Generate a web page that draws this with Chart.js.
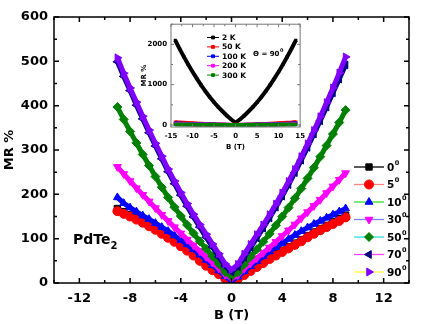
<!DOCTYPE html>
<html>
<head>
<meta charset="utf-8">
<script src="https://cdn.jsdelivr.net/npm/chart.js@4.4.0/dist/chart.umd.min.js"></script>
<style>
  body { margin: 0; background: #fff; }
  #wrap { position: relative; width: 432px; height: 324px; }
  #mainChart { position: absolute; left: 0; top: 0; }
  #insetChart { position: absolute; left: 120px; top: 16px; }
</style>
</head>
<body>
<div id="wrap">
  <canvas id="mainChart" width="432" height="324"></canvas>
  <canvas id="insetChart" width="190" height="138"></canvas>
</div>
<script>
// field B (T), main panel
const field = [-9, -8.5, -8, -7.5, -7, -6.5, -6, -5.5, -5, -4.5, -4, -3.5, -3, -2.5, -2, -1.5, -1, -0.5, 0,
  0.5, 1, 1.5, 2, 2.5, 3, 3.5, 4, 4.5, 5, 5.5, 6, 6.5, 7, 7.5, 8, 8.5, 9];

// MR % for each tilt angle
const mr0 = [168, 161, 154, 147, 140, 132, 124, 115, 106, 96, 86, 75, 64, 52, 41, 31, 21, 11, 3,
  11, 20, 30, 40, 49, 58, 66, 74, 82, 90, 98, 107, 115, 123, 130, 138, 145, 153];
const mr5 = [162, 156, 150, 143, 136, 128, 120, 111, 102, 93, 83, 73, 62, 50, 39, 29, 20, 10, 2,
  9, 18, 27, 36, 45, 54, 62, 70, 78, 86, 94, 103, 111, 119, 126, 133, 140, 148];
const mr10 = [193, 180, 170, 161, 152, 144, 135, 126, 117, 107, 97, 87, 76, 64, 52, 40, 28, 15, 5,
  14, 26, 38, 49, 60, 71, 81, 90, 99, 108, 117, 125, 133, 140, 147, 154, 161, 168];
const mr30 = [262, 246, 230, 214, 199, 184, 169, 154, 140, 126, 112, 98, 85, 72, 59, 46, 33, 19, 10,
  18, 32, 44, 56, 68, 80, 93, 106, 119, 132, 146, 160, 174, 188, 203, 218, 233, 248];
const mr50 = [397, 369, 342, 316, 290, 265, 240, 216, 193, 171, 151, 131, 112, 94, 77, 60, 43, 25, 15,
  24, 42, 59, 76, 93, 111, 130, 150, 170, 191, 213, 236, 260, 285, 310, 336, 362, 390];
const mr70 = [499, 466, 434, 401, 370, 339, 309, 280, 251, 224, 198, 173, 149, 126, 103, 81, 59, 38, 25,
  37, 58, 80, 102, 124, 147, 171, 196, 222, 249, 277, 306, 336, 366, 397, 429, 460, 492];
const mr90 = [508, 473, 440, 408, 376, 345, 315, 286, 257, 230, 204, 179, 155, 132, 110, 88, 66, 43, 30,
  42, 65, 87, 109, 131, 154, 178, 203, 229, 256, 285, 314, 344, 375, 407, 440, 474, 510];

const angles = ["0", "5", "10", "30", "50", "70", "90"];
const xTicks = [-12, -8, -4, 0, 4, 8, 12];
const yTicks = [0, 100, 200, 300, 400, 500, 600];

// inset: 90 deg, different temperatures
const insetField = [-14, -13, -12, -11, -10, -9, -8, -7, -6, -5, -4, -3, -2, -1, 0,
  1, 2, 3, 4, 5, 6, 7, 8, 9, 10, 11, 12, 13, 14];
const mr2K = [2100, 1890, 1690, 1500, 1320, 1150, 990, 835, 695, 565, 445, 335, 230, 135, 60,
  135, 230, 335, 445, 565, 695, 835, 990, 1150, 1320, 1500, 1690, 1890, 2100];
const mr50K = [70, 62, 55, 48, 42, 36, 30, 25, 20, 16, 12, 9, 6, 4, 3,
  4, 6, 9, 12, 16, 20, 25, 30, 36, 42, 48, 55, 62, 72];
const mr100K = [40, 35, 31, 27, 23, 20, 17, 14, 11, 9, 7, 5, 3, 2, 1,
  2, 3, 5, 7, 9, 11, 14, 17, 20, 23, 27, 31, 35, 40];
const mr200K = [25, 22, 19, 17, 15, 13, 11, 9, 7, 6, 4, 3, 2, 1, 1,
  1, 2, 3, 4, 6, 7, 9, 11, 13, 15, 17, 19, 22, 25];
const mr300K = [15, 13, 12, 10, 9, 8, 7, 6, 5, 4, 3, 2, 1, 1, 0,
  1, 1, 2, 3, 4, 5, 6, 7, 8, 9, 10, 12, 13, 15];
const temps = ["2 K", "50 K", "100 K", "200 K", "300 K"];
const insetXTicks = [-15, -10, -5, 0, 5, 10, 15];
const insetYTicks = [0, 1000, 2000];

const FONT = "DejaVu Sans";

const mainSeries = [mr0, mr5, mr10, mr30, mr50, mr70, mr90];
const colors = ["#000000", "#ff0000", "#0000ff", "#ff00ff", "#008000", "#000080", "#8000ff"];
const legendLines = ["#000000", "#ff8080", "#33dd33", "#8080ff", "#33dddd", "#ff44ff", "#ffff44"];
const shapes = ["rect", "circle", "triangle", "triangle", "rectRot", "triangle", "triangle"];
const rotations = [0, 0, 0, 180, 0, 270, 90];

const insetSeries = [mr2K, mr50K, mr100K, mr200K, mr300K];
const insetColors = ["#000000", "#ff0000", "#0000ff", "#ff00ff", "#008000"];

function toPoints(xs, ys) {
  return xs.map((x, i) => ({ x: x, y: ys[i] }));
}

function mark(ctx, style, r, rot, x, y) {
  if (Chart.helpers && Chart.helpers.drawPoint) {
    Chart.helpers.drawPoint(ctx, { pointStyle: style, radius: r, rotation: rot, borderWidth: 1 }, x, y);
  } else {
    ctx.fillRect(x - r, y - r, 2 * r, 2 * r);
  }
}

// frame and inward ticks on all four sides
const frameTicks = {
  id: "frameTicks",
  beforeDatasetsDraw(chart, args, opts) {
    if (!opts.fill) return;
    const a = chart.chartArea;
    chart.ctx.save();
    chart.ctx.fillStyle = opts.fill;
    chart.ctx.fillRect(a.left, a.top, a.right - a.left, a.bottom - a.top);
    chart.ctx.restore();
  },
  afterDatasetsDraw(chart, args, opts) {
    const ctx = chart.ctx;
    const a = chart.chartArea;
    const x = chart.scales.x, y = chart.scales.y;
    ctx.save();
    ctx.strokeStyle = opts.color;
    ctx.lineWidth = opts.width;
    ctx.strokeRect(a.left, a.top, a.right - a.left, a.bottom - a.top);
    ctx.beginPath();
    for (let v = Math.ceil(x.min / opts.xMinor) * opts.xMinor; v <= x.max + 1e-9; v += opts.xMinor) {
      const px = x.getPixelForValue(v);
      const len = Math.abs(v / opts.xMajor - Math.round(v / opts.xMajor)) < 1e-6 ? opts.major : opts.minor;
      ctx.moveTo(px, a.bottom); ctx.lineTo(px, a.bottom - len);
      ctx.moveTo(px, a.top); ctx.lineTo(px, a.top + len);
    }
    for (let v = Math.ceil(y.min / opts.yMinor) * opts.yMinor; v <= y.max + 1e-9; v += opts.yMinor) {
      const py = y.getPixelForValue(v);
      const len = Math.abs(v / opts.yMajor - Math.round(v / opts.yMajor)) < 1e-6 ? opts.major : opts.minor;
      ctx.moveTo(a.left, py); ctx.lineTo(a.left + len, py);
      ctx.moveTo(a.right, py); ctx.lineTo(a.right - len, py);
    }
    ctx.stroke();
    ctx.restore();
  }
};

// main legend + sample label
const angleLegend = {
  id: "angleLegend",
  afterDraw(chart) {
    const ctx = chart.ctx;
    ctx.save();
    angles.forEach((a, i) => {
      const y = 167 + i * 17.5;
      ctx.strokeStyle = legendLines[i];
      ctx.lineWidth = 1.3;
      ctx.beginPath();
      ctx.moveTo(354, y); ctx.lineTo(384, y);
      ctx.stroke();
      ctx.fillStyle = colors[i];
      ctx.strokeStyle = colors[i];
      ctx.lineWidth = 1;
      mark(ctx, shapes[i], 4.5, rotations[i], 369, y);
      ctx.fillStyle = "#000";
      ctx.textBaseline = "middle";
      ctx.textAlign = "left";
      ctx.font = "bold 10.5px '" + FONT + "'";
      ctx.fillText(a, 387, y + 1);
      const w = ctx.measureText(a).width;
      ctx.font = "bold 6.5px '" + FONT + "'";
      ctx.fillText("0", 387 + w + 0.5, y - 4);
    });
    ctx.font = "bold 14px '" + FONT + "'";
    ctx.textBaseline = "alphabetic";
    ctx.fillStyle = "#000";
    ctx.fillText("PdTe", 73, 244);
    const w = ctx.measureText("PdTe").width;
    ctx.font = "bold 10px '" + FONT + "'";
    ctx.fillText("2", 73 + w, 249);
    ctx.restore();
  }
};

const insetLegend = {
  id: "insetLegend",
  afterDraw(chart) {
    const ctx = chart.ctx;
    ctx.save();
    temps.forEach((t, i) => {
      const y = 21.5 + i * 9.4;
      ctx.strokeStyle = insetColors[i];
      ctx.lineWidth = 1;
      ctx.beginPath();
      ctx.moveTo(87, y); ctx.lineTo(99, y);
      ctx.stroke();
      ctx.fillStyle = insetColors[i];
      mark(ctx, "rect", 2, 0, 93, y);
      ctx.fillStyle = "#000";
      ctx.textBaseline = "middle";
      ctx.font = "bold 7.5px '" + FONT + "'";
      ctx.fillText(t, 102, y + 0.5);
    });
    ctx.font = "bold 7px '" + FONT + "'";
    ctx.fillText("\u0398 = 90", 133, 38);
    const w = ctx.measureText("\u0398 = 90").width;
    ctx.font = "bold 5px '" + FONT + "'";
    ctx.fillText("0", 133 + w + 0.5, 35);
    ctx.restore();
  }
};

const mainData = {
  datasets: mainSeries.map((s, i) => ({
    label: angles[i],
    data: toPoints(field, s),
    showLine: true,
    borderColor: colors[i],
    backgroundColor: colors[i],
    borderWidth: 5,
    pointStyle: shapes[i],
    pointRotation: rotations[i],
    pointRadius: 4.5,
    pointBorderWidth: 1,
    order: mainSeries.length - i
  }))
};

new Chart(document.getElementById("mainChart"), {
  type: "scatter",
  data: mainData,
  options: {
    responsive: false,
    animation: false,
    events: [],
    layout: { padding: { top: 17, right: 23, left: 0, bottom: 0 } },
    plugins: {
      legend: { display: false },
      tooltip: { enabled: false },
      frameTicks: { color: "#000", width: 1.5, major: 5, minor: 3, xMajor: 4, xMinor: 2, yMajor: 100, yMinor: 50 }
    },
    scales: {
      x: {
        type: "linear", min: -14, max: 14,
        grid: { display: false, drawTicks: false },
        border: { display: false },
        afterBuildTicks: s => { s.ticks = xTicks.map(v => ({ value: v })); },
        afterFit: s => { s.height = 41; },
        ticks: { color: "#000", padding: 8, maxRotation: 0, callback: v => String(v), font: { family: FONT, weight: "bold", size: 13 } },
        title: { display: true, text: "B (T)", color: "#000", padding: { top: 0, bottom: 1 }, font: { family: FONT, weight: "bold", size: 13 } }
      },
      y: {
        type: "linear", min: 0, max: 600,
        grid: { display: false, drawTicks: false },
        border: { display: false },
        afterBuildTicks: s => { s.ticks = yTicks.map(v => ({ value: v })); },
        afterFit: s => { s.width = 54; },
        ticks: { color: "#000", padding: 6, callback: v => String(v), font: { family: FONT, weight: "bold", size: 13 } },
        title: { display: true, text: "MR %", color: "#000", padding: { top: 2, bottom: 0 }, font: { family: FONT, weight: "bold", size: 13 } }
      }
    }
  },
  plugins: [frameTicks, angleLegend]
});

new Chart(document.getElementById("insetChart"), {
  type: "scatter",
  data: {
    datasets: insetSeries.map((s, i) => ({
      label: temps[i],
      data: toPoints(insetField, s),
      showLine: true,
      borderColor: insetColors[i],
      backgroundColor: insetColors[i],
      borderWidth: 4,
      pointStyle: "rect",
      pointRadius: 2.2,
      pointBorderWidth: 0,
      order: insetSeries.length - i
    }))
  },
  options: {
    responsive: false,
    animation: false,
    events: [],
    layout: { padding: { top: 8, right: 9, left: 0, bottom: 0 } },
    plugins: {
      legend: { display: false },
      tooltip: { enabled: false },
      frameTicks: { color: "#777", width: 1, major: 3, minor: 2, xMajor: 5, xMinor: 2.5, yMajor: 1000, yMinor: 500, fill: "#fff" }
    },
    scales: {
      x: {
        type: "linear", min: -15, max: 15,
        grid: { display: false, drawTicks: false },
        border: { display: false },
        afterBuildTicks: s => { s.ticks = insetXTicks.map(v => ({ value: v })); },
        afterFit: s => { s.height = 27; },
        ticks: { color: "#000", padding: 5, maxRotation: 0, callback: v => String(v), font: { family: FONT, weight: "bold", size: 7 } },
        title: { display: true, text: "B (T)", color: "#000", padding: { top: 0, bottom: 3 }, font: { family: FONT, weight: "bold", size: 7 } }
      },
      y: {
        type: "linear", min: -50, max: 2500,
        grid: { display: false, drawTicks: false },
        border: { display: false },
        afterBuildTicks: s => { s.ticks = insetYTicks.map(v => ({ value: v })); },
        afterFit: s => { s.width = 51; },
        ticks: { color: "#000", padding: 4, callback: v => String(v), font: { family: FONT, weight: "bold", size: 7 } },
        title: { display: true, text: "MR %", color: "#000", padding: { top: 20, bottom: 0 }, font: { family: FONT, weight: "bold", size: 7 } }
      }
    }
  },
  plugins: [frameTicks, insetLegend]
});
</script>
</body>
</html>
